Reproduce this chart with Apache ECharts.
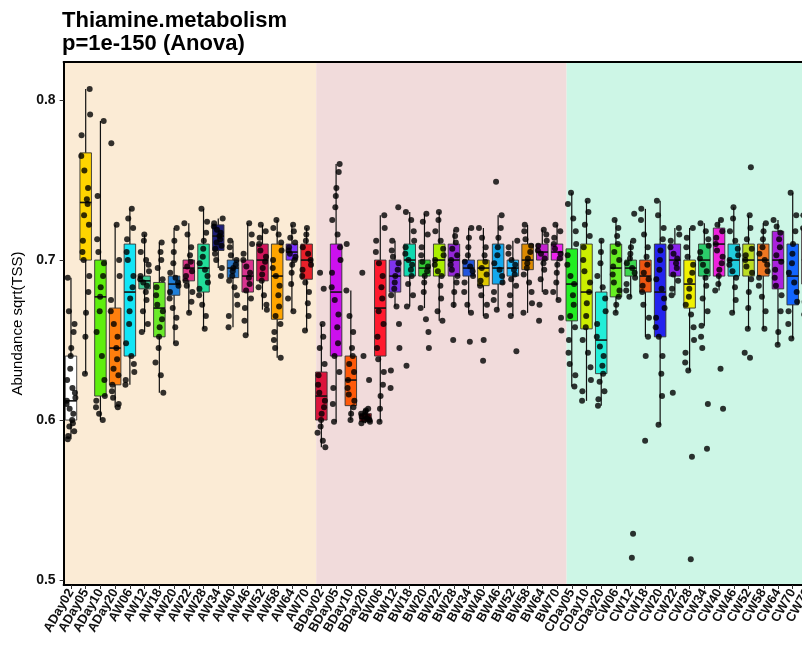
<!DOCTYPE html>
<html>
<head>
<meta charset="utf-8">
<script src="https://cdn.jsdelivr.net/npm/echarts@6/dist/echarts.min.js"></script>
<style>
  html, body { margin: 0; padding: 0; background: #fff; }
  #chart { width: 802px; height: 646px; }
</style>
</head>
<body>
<div id="chart"></div>
<script>
// Sample groups (A, B, C) and their time points
const categoriesA = ['ADay02','ADay05','ADay10','ADay20','AW06','AW12','AW18','AW20','AW22','AW28','AW34','AW40','AW46','AW52','AW58','AW64','AW70'];
const categoriesB = ['BDay02','BDay05','BDay10','BDay20','BW06','BW12','BW18','BW20','BW22','BW28','BW34','BW40','BW46','BW52','BW58','BW64','BW70'];
const categoriesC = ['CDay05','CDay10','CDay20','CW06','CW12','CW18','CW20','CW22','CW28','CW34','CW40','CW46','CW52','CW58','CW64','CW70','CW76'];

// Box statistics per sample: [lower whisker, Q1, median, Q3, upper whisker]
const boxStatsA = [
  [0.588,0.600,0.612,0.640,0.689],[0.629,0.700,0.736,0.767,0.807],[0.600,0.615,0.677,0.700,0.787],
  [0.608,0.622,0.645,0.670,0.722],[0.622,0.640,0.680,0.710,0.732],[0.655,0.682,0.687,0.690,0.716],
  [0.617,0.652,0.670,0.686,0.711],[0.648,0.678,0.685,0.690,0.720],[0.667,0.687,0.695,0.700,0.723],
  [0.657,0.680,0.695,0.710,0.732],[0.695,0.706,0.715,0.722,0.726],[0.658,0.689,0.695,0.700,0.712],
  [0.653,0.680,0.690,0.700,0.723],[0.669,0.687,0.700,0.710,0.722],[0.639,0.663,0.690,0.710,0.725],
  [0.668,0.700,0.705,0.710,0.722],[0.656,0.688,0.700,0.710,0.720]
];
const boxStatsB = [
  [0.583,0.600,0.615,0.630,0.660],[0.599,0.640,0.680,0.710,0.760],[0.600,0.609,0.625,0.640,0.681],
  [0.598,0.599,0.601,0.604,0.607],[0.599,0.640,0.670,0.700,0.728],[0.671,0.680,0.690,0.700,0.712],
  [0.671,0.690,0.700,0.710,0.730],[0.670,0.690,0.695,0.700,0.729],[0.662,0.690,0.700,0.710,0.730],
  [0.670,0.690,0.700,0.710,0.719],[0.667,0.690,0.695,0.700,0.720],[0.665,0.684,0.695,0.700,0.720],
  [0.669,0.685,0.695,0.710,0.728],[0.665,0.690,0.695,0.700,0.712],[0.667,0.694,0.700,0.710,0.722],
  [0.680,0.700,0.705,0.710,0.719],[0.675,0.700,0.705,0.710,0.722]
];
const boxStatsC = [
  [0.621,0.662,0.685,0.707,0.742],[0.612,0.657,0.680,0.710,0.737],[0.609,0.629,0.650,0.680,0.712],
  [0.667,0.677,0.695,0.710,0.725],[0.677,0.690,0.695,0.700,0.712],[0.652,0.680,0.690,0.700,0.732],
  [0.597,0.652,0.680,0.710,0.737],[0.678,0.690,0.700,0.710,0.720],[0.631,0.670,0.685,0.700,0.720],
  [0.659,0.690,0.700,0.710,0.723],[0.681,0.690,0.710,0.720,0.725],[0.667,0.690,0.700,0.710,0.733],
  [0.657,0.690,0.700,0.710,0.728],[0.657,0.690,0.700,0.710,0.723],[0.647,0.682,0.700,0.718,0.725],
  [0.651,0.672,0.690,0.710,0.742],[0.660,0.685,0.700,0.720,0.735]
];

// Individual sample values
const pointsA = [
  [0.689,0.668,0.660,0.655,0.645,0.640,0.632,0.625,0.620,0.617,0.614,0.612,0.610,0.607,0.604,0.600,0.598,0.596,0.593,0.590,0.588],
  [0.807,0.791,0.778,0.765,0.756,0.745,0.738,0.735,0.728,0.722,0.712,0.705,0.700,0.690,0.680,0.667,0.652,0.629],
  [0.787,0.740,0.713,0.705,0.698,0.690,0.683,0.677,0.668,0.655,0.640,0.625,0.615,0.612,0.608,0.604,0.600],
  [0.773,0.722,0.700,0.690,0.675,0.668,0.660,0.652,0.645,0.638,0.632,0.628,0.622,0.618,0.614,0.610,0.608],
  [0.732,0.726,0.720,0.713,0.705,0.700,0.690,0.683,0.676,0.668,0.660,0.648,0.640,0.635,0.630,0.625,0.622],
  [0.716,0.712,0.705,0.700,0.697,0.693,0.690,0.688,0.686,0.684,0.680,0.675,0.668,0.660,0.655],
  [0.711,0.705,0.700,0.695,0.688,0.683,0.678,0.672,0.668,0.663,0.658,0.652,0.645,0.636,0.628,0.617],
  [0.720,0.712,0.705,0.698,0.692,0.689,0.686,0.684,0.680,0.676,0.670,0.664,0.658,0.648],
  [0.723,0.716,0.708,0.703,0.699,0.696,0.693,0.690,0.687,0.684,0.680,0.674,0.667],
  [0.732,0.724,0.717,0.712,0.707,0.702,0.698,0.694,0.690,0.686,0.682,0.678,0.672,0.665,0.657],
  [0.726,0.723,0.721,0.719,0.717,0.715,0.713,0.711,0.709,0.707,0.704,0.700,0.695,0.690],
  [0.712,0.708,0.703,0.700,0.697,0.695,0.693,0.690,0.687,0.683,0.678,0.672,0.665,0.658],
  [0.723,0.716,0.710,0.704,0.700,0.696,0.692,0.689,0.685,0.681,0.676,0.670,0.662,0.653],
  [0.722,0.718,0.714,0.710,0.706,0.702,0.699,0.695,0.691,0.687,0.683,0.678,0.672,0.669],
  [0.725,0.720,0.716,0.711,0.706,0.700,0.695,0.690,0.684,0.678,0.671,0.665,0.660,0.655,0.650,0.645,0.639],
  [0.722,0.718,0.714,0.711,0.708,0.706,0.704,0.702,0.700,0.697,0.692,0.685,0.676,0.668],
  [0.720,0.716,0.712,0.708,0.704,0.700,0.697,0.694,0.690,0.686,0.680,0.673,0.665,0.656]
];
const pointsB = [
  [0.692,0.682,0.660,0.652,0.645,0.635,0.628,0.622,0.617,0.612,0.608,0.604,0.600,0.596,0.592,0.587,0.583],
  [0.760,0.755,0.745,0.740,0.733,0.725,0.716,0.708,0.700,0.692,0.683,0.675,0.666,0.658,0.648,0.640,0.630,0.620,0.610,0.599],
  [0.710,0.681,0.665,0.655,0.645,0.640,0.635,0.630,0.625,0.620,0.616,0.612,0.608,0.604,0.600],
  [0.692,0.640,0.625,0.607,0.606,0.605,0.603,0.602,0.601,0.600,0.599,0.598,0.604,0.600,0.602],
  [0.728,0.720,0.712,0.705,0.698,0.690,0.683,0.676,0.668,0.660,0.652,0.645,0.638,0.630,0.622,0.615,0.607,0.599],
  [0.733,0.712,0.706,0.702,0.698,0.694,0.690,0.686,0.682,0.678,0.671,0.660,0.645,0.631,0.620],
  [0.730,0.725,0.718,0.712,0.708,0.704,0.700,0.697,0.694,0.690,0.685,0.678,0.671,0.634],
  [0.729,0.724,0.716,0.708,0.703,0.699,0.696,0.693,0.690,0.686,0.680,0.670,0.663,0.655,0.645],
  [0.730,0.725,0.718,0.712,0.707,0.703,0.700,0.697,0.693,0.690,0.684,0.676,0.668,0.662],
  [0.719,0.715,0.711,0.707,0.703,0.700,0.697,0.694,0.690,0.686,0.680,0.672,0.650],
  [0.720,0.714,0.708,0.703,0.699,0.696,0.693,0.690,0.686,0.680,0.672,0.667,0.649],
  [0.720,0.714,0.708,0.703,0.699,0.695,0.691,0.687,0.684,0.678,0.672,0.665,0.650,0.637],
  [0.749,0.728,0.720,0.714,0.708,0.703,0.698,0.694,0.690,0.686,0.680,0.675,0.669],
  [0.712,0.708,0.704,0.700,0.697,0.694,0.691,0.688,0.684,0.678,0.672,0.665,0.643],
  [0.722,0.718,0.713,0.709,0.705,0.701,0.698,0.695,0.691,0.686,0.680,0.673,0.667],
  [0.719,0.716,0.712,0.709,0.706,0.704,0.701,0.698,0.694,0.688,0.680,0.672,0.662],
  [0.722,0.718,0.714,0.710,0.707,0.704,0.701,0.697,0.692,0.686,0.680,0.675,0.664,0.656]
];
const pointsC = [
  [0.742,0.735,0.726,0.718,0.710,0.703,0.697,0.690,0.685,0.678,0.672,0.665,0.658,0.650,0.642,0.635,0.628,0.621],
  [0.737,0.730,0.722,0.715,0.708,0.700,0.693,0.686,0.680,0.673,0.665,0.658,0.650,0.642,0.633,0.625,0.618,0.612],
  [0.712,0.705,0.698,0.690,0.683,0.676,0.668,0.660,0.652,0.646,0.640,0.634,0.629,0.624,0.618,0.613,0.609],
  [0.725,0.720,0.715,0.710,0.705,0.700,0.696,0.691,0.686,0.681,0.677,0.672,0.667],
  [0.729,0.712,0.708,0.704,0.701,0.698,0.695,0.692,0.689,0.685,0.681,0.677,0.529,0.514],
  [0.732,0.725,0.716,0.708,0.702,0.697,0.692,0.688,0.684,0.680,0.672,0.664,0.652,0.640,0.587],
  [0.737,0.728,0.720,0.713,0.706,0.700,0.694,0.688,0.682,0.676,0.670,0.664,0.658,0.652,0.640,0.629,0.615,0.597],
  [0.720,0.716,0.712,0.708,0.704,0.701,0.698,0.695,0.691,0.687,0.682,0.678,0.617],
  [0.720,0.714,0.708,0.702,0.697,0.692,0.687,0.682,0.677,0.672,0.666,0.658,0.650,0.642,0.636,0.631,0.577,0.513],
  [0.723,0.718,0.713,0.709,0.705,0.701,0.697,0.693,0.689,0.684,0.676,0.668,0.659,0.652,0.645,0.610,0.582],
  [0.725,0.722,0.718,0.714,0.710,0.706,0.702,0.698,0.694,0.690,0.685,0.681,0.632,0.607],
  [0.733,0.726,0.718,0.712,0.707,0.703,0.700,0.697,0.693,0.689,0.683,0.675,0.667],
  [0.758,0.728,0.720,0.713,0.707,0.703,0.700,0.696,0.692,0.688,0.680,0.670,0.657,0.642,0.639],
  [0.723,0.718,0.713,0.708,0.704,0.700,0.697,0.693,0.689,0.684,0.677,0.668,0.657],
  [0.725,0.721,0.717,0.713,0.708,0.703,0.699,0.694,0.689,0.684,0.678,0.668,0.655,0.647],
  [0.742,0.728,0.718,0.710,0.704,0.698,0.692,0.686,0.680,0.674,0.668,0.660,0.651],
  [0.735,0.728,0.720,0.712,0.706,0.700,0.694,0.688,0.682,0.674,0.666,0.660]
];

const yTicks = [0.5, 0.6, 0.7, 0.8];

// Fill colours of the boxes, one per sample
const boxColorsA = ['#FFFFFF','#FFD400','#5FEE0E','#FF7F0E','#13E5F5','#3DCB94','#6BEA2A','#1F7FD8','#DD3388','#22DD99','#1E1E78','#2A78C8','#D8338F','#D2145A','#FFA500','#7A2EFF','#E8202A'];
const boxColorsB = ['#DC143C','#CC11EE','#FF5A0A','#B01020','#FF1A2E','#7F33EE','#11D9B0','#33CC33','#AAEE00','#9426D8','#2255DD','#E0C800','#14A8EE','#22BBFF','#DD8A00','#C21FCF','#EE22EE'];
const boxColorsC = ['#22EE22','#CCEE00','#22EED8','#66EE22','#3BD84E','#EE5511','#2323EE','#8A22EE','#F0F000','#2BCB6A','#EE22DD','#22CCDD','#BBDD22','#EE7722','#AA22DD','#1266FF','#E0226E'];

// Shaded panels behind each group
const groupFills = ['#FBEBD5', '#F1DBDB', '#CDF6E6'];

// Horizontal spread of the dots inside a box (fraction of a category band)
const jitter = [-0.22,0.18,-0.05,0.27,-0.3,0.08,0.22,-0.14,0.02,-0.26,0.3,-0.09,0.13,-0.19,0.24,-0.02,0.1,-0.28,0.16,-0.11];

const categories = categoriesA.concat(categoriesB, categoriesC);
const boxStats = boxStatsA.concat(boxStatsB, boxStatsC);
const points = pointsA.concat(pointsB, pointsC);
const boxColors = boxColorsA.concat(boxColorsB, boxColorsC);
const N = categories.length;

const groupSizes = [categoriesA.length, categoriesB.length, categoriesC.length];
const panelShift = 0.15;
const groupSpans = [];
let start = 0;
groupSizes.forEach((n, g) => {
  const a = g === 0 ? 0 : start + panelShift;
  const b = g === groupSizes.length - 1 ? N : start + n + panelShift;
  groupSpans.push([a, b, g]);
  start += n;
});

const boxData = boxStats.map((s, i) => [i].concat(s));
const dotData = [];
points.forEach((vals, i) => {
  vals.forEach((v, k) => {
    dotData.push([i + 0.5 + jitter[(k * 7 + i * 3) % jitter.length], v]);
  });
});

const FONT = '"Liberation Sans", Arial, Helvetica, sans-serif';
const chart = echarts.init(document.getElementById('chart'), null, { renderer: 'canvas' });

chart.setOption({
  animation: false,
  backgroundColor: '#ffffff',
  textStyle: { fontFamily: FONT },
  title: {
    text: 'Thiamine.metabolism\np=1e-150 (Anova)',
    left: 62, top: 9, padding: 0,
    textStyle: { fontFamily: FONT, fontSize: 22, fontWeight: 'bold', color: '#000', lineHeight: 23 }
  },
  // The panel runs on past the right edge of the page
  grid: { left: 63.6, top: 62, width: 751.2, bottom: 61, containLabel: false, outerBoundsMode: 'none' },
  xAxis: [
    {
      type: 'category', data: categories, boundaryGap: true, position: 'bottom', z: 5,
      axisLine: { show: true, lineStyle: { color: '#000', width: 2 } },
      axisTick: { show: true, alignWithLabel: true, length: 4, lineStyle: { color: '#333' } },
      axisLabel: { interval: 0, rotate: 60, margin: 5, fontFamily: FONT, fontSize: 13, fontWeight: 'bold', color: '#111' },
      splitLine: { show: false }
    },
    {
      type: 'value', min: 0, max: N, position: 'top', z: 5,
      axisLine: { show: true, onZero: false, lineStyle: { color: '#000', width: 2 } },
      axisTick: { show: false }, axisLabel: { show: false }, splitLine: { show: false }
    }
  ],
  yAxis: {
    type: 'value', min: 0.4969, max: 0.8238, z: 5,
    name: 'Abundance sqrt(TSS)', nameLocation: 'middle', nameGap: 36,
    nameTextStyle: { fontFamily: FONT, fontSize: 15, color: '#000' },
    axisLine: { show: true, lineStyle: { color: '#000', width: 2 } },
    axisTick: { show: true, length: 4, customValues: yTicks, lineStyle: { color: '#333' } },
    axisLabel: { customValues: yTicks, formatter: v => v.toFixed(1), margin: 8, fontFamily: FONT, fontSize: 14, fontWeight: 'bold', color: '#111' },
    splitLine: { show: false }
  },
  series: [
    {
      type: 'custom', name: 'panels', xAxisIndex: 1, yAxisIndex: 0, silent: true, z: 1,
      data: groupSpans,
      encode: { x: [0, 1] },
      renderItem: (params, api) => {
        const cs = params.coordSys;
        const x0 = api.coord([api.value(0), 0.7])[0];
        const x1 = api.coord([api.value(1), 0.7])[0];
        return {
          type: 'rect',
          shape: { x: x0, y: cs.y, width: x1 - x0, height: cs.height },
          style: { fill: groupFills[api.value(2)] }
        };
      }
    },
    {
      type: 'custom', name: 'boxes', xAxisIndex: 1, yAxisIndex: 0, silent: true, z: 2,
      data: boxData,
      encode: { x: 0, y: [1, 5] },
      renderItem: (params, api) => {
        const i = api.value(0);
        const xc = i + 0.5;
        const cx = api.coord([xc, api.value(3)])[0];
        const yLo = api.coord([xc, api.value(1)])[1];
        const yQ1 = api.coord([xc, api.value(2)])[1];
        const yMed = api.coord([xc, api.value(3)])[1];
        const yQ3 = api.coord([xc, api.value(4)])[1];
        const yHi = api.coord([xc, api.value(5)])[1];
        const w = api.size([0.78, 0])[0];
        return {
          type: 'group',
          children: [
            { type: 'line', shape: { x1: cx, y1: yHi, x2: cx, y2: yLo }, style: { stroke: '#111', lineWidth: 1.2 } },
            { type: 'rect', shape: { x: cx - w / 2, y: yQ3, width: w, height: yQ1 - yQ3 },
              style: { fill: boxColors[i], stroke: '#333', lineWidth: 0.9 } },
            { type: 'line', shape: { x1: cx - w / 2, y1: yMed, x2: cx + w / 2, y2: yMed }, style: { stroke: '#111', lineWidth: 1.6 } }
          ]
        };
      }
    },
    {
      type: 'scatter', name: 'samples', xAxisIndex: 1, yAxisIndex: 0, z: 3, silent: true,
      symbol: 'circle', symbolSize: 6,
      itemStyle: { color: '#000' },
      data: dotData
    }
  ]
});
</script>
</body>
</html>
